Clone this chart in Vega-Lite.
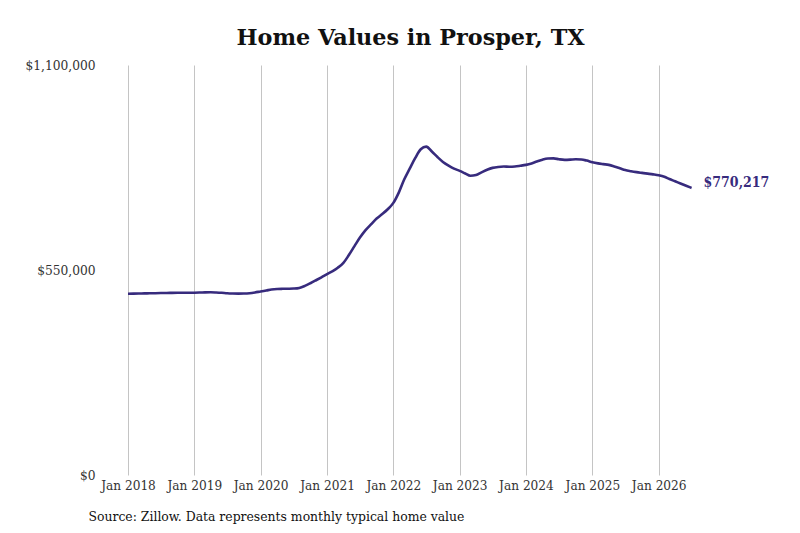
{
  "$schema": "https://vega.github.io/schema/vega-lite/v6.json",
  "autosize": "none",
  "width": 597,
  "height": 410,
  "padding": {"left": 128, "top": 65, "right": 75, "bottom": 58},
  "background": "white",
  "config": {"view": {"stroke": null}},
  "title": {
    "text": "Home Values in Prosper, TX",
    "font": "DejaVu Serif",
    "fontWeight": "bold",
    "fontSize": 22.3,
    "color": "#111111",
    "anchor": "middle",
    "frame": "group",
    "dx": -16,
    "offset": 9
  },
  "data": {
    "values": [
      {"date": "2018-01-01", "value": 486400},
      {"date": "2018-02-01", "value": 486600},
      {"date": "2018-03-01", "value": 486900},
      {"date": "2018-04-01", "value": 487200},
      {"date": "2018-05-01", "value": 487500},
      {"date": "2018-06-01", "value": 487800},
      {"date": "2018-07-01", "value": 488100},
      {"date": "2018-08-01", "value": 488400},
      {"date": "2018-09-01", "value": 488600},
      {"date": "2018-10-01", "value": 488800},
      {"date": "2018-11-01", "value": 488900},
      {"date": "2018-12-01", "value": 489000},
      {"date": "2019-01-01", "value": 489100},
      {"date": "2019-02-01", "value": 489500},
      {"date": "2019-03-01", "value": 490000},
      {"date": "2019-04-01", "value": 490200},
      {"date": "2019-05-01", "value": 489700},
      {"date": "2019-06-01", "value": 488800},
      {"date": "2019-07-01", "value": 487500},
      {"date": "2019-08-01", "value": 486800},
      {"date": "2019-09-01", "value": 486500},
      {"date": "2019-10-01", "value": 486800},
      {"date": "2019-11-01", "value": 487800},
      {"date": "2019-12-01", "value": 489800},
      {"date": "2020-01-01", "value": 492500},
      {"date": "2020-02-01", "value": 495000},
      {"date": "2020-03-01", "value": 497500},
      {"date": "2020-04-01", "value": 499000},
      {"date": "2020-05-01", "value": 499500},
      {"date": "2020-06-01", "value": 499700},
      {"date": "2020-07-01", "value": 500200},
      {"date": "2020-08-01", "value": 502000},
      {"date": "2020-09-01", "value": 507500},
      {"date": "2020-10-01", "value": 514500},
      {"date": "2020-11-01", "value": 522500},
      {"date": "2020-12-01", "value": 530500},
      {"date": "2021-01-01", "value": 539000},
      {"date": "2021-02-01", "value": 547000},
      {"date": "2021-03-01", "value": 556000},
      {"date": "2021-04-01", "value": 569000},
      {"date": "2021-05-01", "value": 590000},
      {"date": "2021-06-01", "value": 614000},
      {"date": "2021-07-01", "value": 637000},
      {"date": "2021-08-01", "value": 657000},
      {"date": "2021-09-01", "value": 673000},
      {"date": "2021-10-01", "value": 688000},
      {"date": "2021-11-01", "value": 700000},
      {"date": "2021-12-01", "value": 713000},
      {"date": "2022-01-01", "value": 730000},
      {"date": "2022-02-01", "value": 759000},
      {"date": "2022-03-01", "value": 792000},
      {"date": "2022-04-01", "value": 822000},
      {"date": "2022-05-01", "value": 850000},
      {"date": "2022-06-01", "value": 874000},
      {"date": "2022-07-01", "value": 881000},
      {"date": "2022-08-01", "value": 868000},
      {"date": "2022-09-01", "value": 853000},
      {"date": "2022-10-01", "value": 840000},
      {"date": "2022-11-01", "value": 830000},
      {"date": "2022-12-01", "value": 822000},
      {"date": "2023-01-01", "value": 816000},
      {"date": "2023-02-01", "value": 809000},
      {"date": "2023-03-01", "value": 803000},
      {"date": "2023-04-01", "value": 805000},
      {"date": "2023-05-01", "value": 812000},
      {"date": "2023-06-01", "value": 819000},
      {"date": "2023-07-01", "value": 824000},
      {"date": "2023-08-01", "value": 826500},
      {"date": "2023-09-01", "value": 827500},
      {"date": "2023-10-01", "value": 827000},
      {"date": "2023-11-01", "value": 827500},
      {"date": "2023-12-01", "value": 829500},
      {"date": "2024-01-01", "value": 832000},
      {"date": "2024-02-01", "value": 836000},
      {"date": "2024-03-01", "value": 841000},
      {"date": "2024-04-01", "value": 846000},
      {"date": "2024-05-01", "value": 849000},
      {"date": "2024-06-01", "value": 849500},
      {"date": "2024-07-01", "value": 847000},
      {"date": "2024-08-01", "value": 845500},
      {"date": "2024-09-01", "value": 846000},
      {"date": "2024-10-01", "value": 847000},
      {"date": "2024-11-01", "value": 846500},
      {"date": "2024-12-01", "value": 843500},
      {"date": "2025-01-01", "value": 839000},
      {"date": "2025-02-01", "value": 836000},
      {"date": "2025-03-01", "value": 834000},
      {"date": "2025-04-01", "value": 832000},
      {"date": "2025-05-01", "value": 828000},
      {"date": "2025-06-01", "value": 823000},
      {"date": "2025-07-01", "value": 818000},
      {"date": "2025-08-01", "value": 815000},
      {"date": "2025-09-01", "value": 812500},
      {"date": "2025-10-01", "value": 810500},
      {"date": "2025-11-01", "value": 808500},
      {"date": "2025-12-01", "value": 806500},
      {"date": "2026-01-01", "value": 804000},
      {"date": "2026-02-01", "value": 800000},
      {"date": "2026-03-01", "value": 794000},
      {"date": "2026-04-01", "value": 788000},
      {"date": "2026-05-01", "value": 782000},
      {"date": "2026-06-01", "value": 776000},
      {"date": "2026-07-01", "value": 770217, "label": "$770,217"}
    ]
  },
  "encoding": {
    "x": {
      "field": "date",
      "type": "temporal",
      "scale": {"domain": ["2018-01-01", "2027-01-01"]},
      "axis": {
        "values": ["2018-01-01", "2019-01-01", "2020-01-01", "2021-01-01", "2022-01-01", "2023-01-01", "2024-01-01", "2025-01-01", "2026-01-01"],
        "format": "%b %Y",
        "grid": true,
        "gridColor": "#c4c4c4",
        "gridWidth": 1,
        "domain": false,
        "ticks": false,
        "labelPadding": 3,
        "labelFont": "DejaVu Serif Condensed",
        "labelFontSize": 13.5,
        "labelColor": "#333333",
        "labelFlush": false,
        "title": "Source: Zillow. Data represents monthly typical home value",
        "titleFont": "DejaVu Serif Condensed",
        "titleFontSize": 13.8,
        "titleFontWeight": "normal",
        "titleColor": "#111111",
        "titleAnchor": "start",
        "titleAlign": "left",
        "titleBaseline": "middle",
        "titleX": -40,
        "titleY": 41
      }
    },
    "y": {
      "field": "value",
      "type": "quantitative",
      "scale": {"domain": [0, 1100000], "nice": false},
      "axis": {
        "values": [0, 550000, 1100000],
        "format": "$,.0f",
        "grid": false,
        "domain": false,
        "ticks": false,
        "labelPadding": 33,
        "labelFont": "DejaVu Serif Condensed",
        "labelFontSize": 13.6,
        "labelColor": "#333333",
        "labelFlush": false,
        "title": null
      }
    }
  },
  "layer": [
    {
      "mark": {"type": "line", "color": "#372b7d", "strokeWidth": 2.6, "interpolate": "monotone"}
    },
    {
      "transform": [{"filter": "datum.label != null"}],
      "mark": {"type": "text", "align": "left", "baseline": "middle", "dx": 12, "dy": -5, "font": "DejaVu Serif Condensed", "fontWeight": "bold", "fontSize": 14, "color": "#372b7d"},
      "encoding": {"text": {"field": "label"}}
    }
  ]
}
